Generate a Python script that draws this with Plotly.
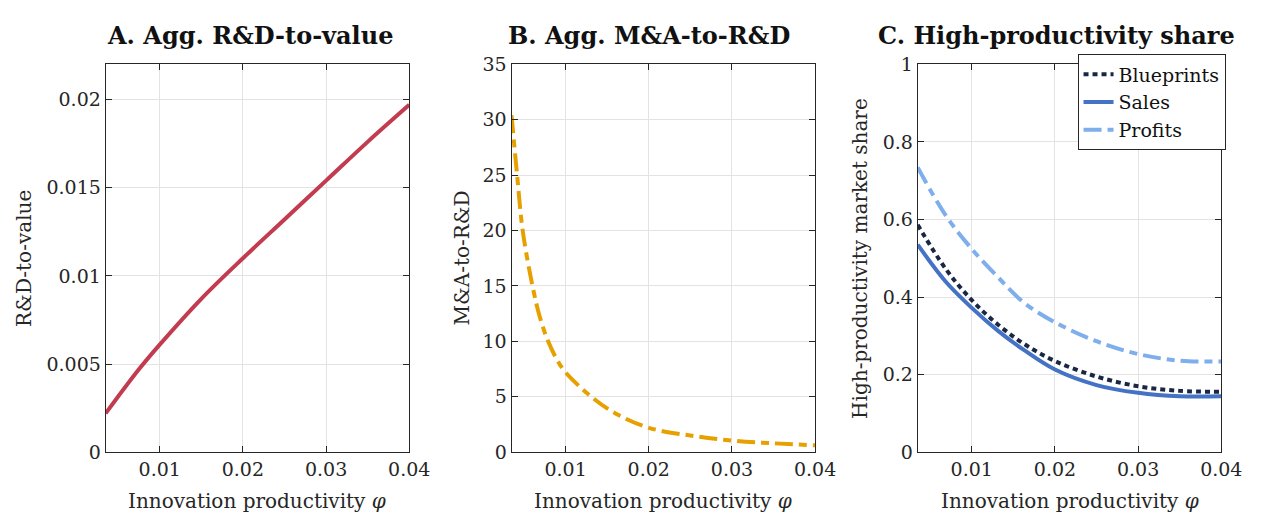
import plotly.graph_objects as go

# ---------------- data ----------------
phi_a = [0.0035, 0.0075, 0.01, 0.015, 0.02, 0.025, 0.03, 0.035, 0.04]
rd_to_value = [0.0022, 0.0047, 0.0061, 0.0087, 0.0110, 0.0132, 0.0154, 0.0176, 0.0197]

phi_b = [0.0035, 0.00417, 0.00484, 0.00602, 0.0069, 0.0079, 0.009, 0.01, 0.0131, 0.016,
         0.02, 0.025, 0.03, 0.035, 0.04]
ma_to_rd = [30.4, 25.0, 20.0, 15.0, 12.2, 10.0, 8.3, 7.2, 5.0, 3.5,
            2.2, 1.5, 1.05, 0.8, 0.62]

phi_c = [0.0035, 0.00685, 0.01, 0.0132, 0.0163, 0.02, 0.025, 0.03, 0.035, 0.04]
blueprints = [0.586, 0.473, 0.392, 0.328, 0.279, 0.235, 0.195, 0.170, 0.158, 0.156]
sales = [0.535, 0.440, 0.372, 0.312, 0.263, 0.213, 0.173, 0.153, 0.144, 0.144]
profits = [0.734, 0.611, 0.524, 0.450, 0.385, 0.335, 0.286, 0.253, 0.236, 0.234]

titles = ["A. Agg. R&D-to-value", "B. Agg. M&A-to-R&D", "C. High-productivity share"]
ytitles = ["R&D-to-value", "M&A-to-R&D", "High-productivity market share"]
xtitle = "Innovation productivity <i>φ</i>"
x_ticks = [0.01, 0.02, 0.03, 0.04]
x_ticklabels = ["0.01", "0.02", "0.03", "0.04"]
yticks_a = [0, 0.005, 0.01, 0.015, 0.02]
yticklabels_a = ["0", "0.005", "0.01", "0.015", "0.02"]
yticks_b = [0, 5, 10, 15, 20, 25, 30, 35]
yticks_c = [0, 0.2, 0.4, 0.6, 0.8, 1]
yticklabels_c = ["0", "0.2", "0.4", "0.6", "0.8", "1"]

# ---------------- layout ----------------
W, H = 1270, 520
FONT = "DejaVu Serif"
TXT = "#262626"
doms_x = [(99.3 / W, 408 / W), (512 / W, 820.7 / W), (925 / W, 1233.7 / W)]
dom_y = (1 - 452.3 / H, 1 - 47.3 / H)

fig = go.Figure()

fig.add_trace(go.Scatter(x=phi_a, y=rd_to_value, mode="lines", line_shape="spline",
                         line=dict(color="#C23B4E", width=4), showlegend=False,
                         xaxis="x", yaxis="y"))
fig.add_trace(go.Scatter(x=phi_b, y=ma_to_rd, mode="lines", line_shape="spline",
                         line=dict(color="#E6A100", width=4, dash="18px,6px,8px,6px"),
                         showlegend=False, xaxis="x2", yaxis="y2"))
fig.add_trace(go.Scatter(x=phi_c, y=blueprints, mode="lines", line_shape="spline",
                         name="Blueprints",
                         line=dict(color="#1A2744", width=4, dash="5px,4px"),
                         xaxis="x3", yaxis="y3"))
fig.add_trace(go.Scatter(x=phi_c, y=sales, mode="lines", line_shape="spline",
                         name="Sales", line=dict(color="#4472C4", width=4),
                         xaxis="x3", yaxis="y3"))
fig.add_trace(go.Scatter(x=phi_c, y=profits, mode="lines", line_shape="spline",
                         name="Profits",
                         line=dict(color="#7FAEEC", width=4, dash="18px,6px,8px,6px"),
                         xaxis="x3", yaxis="y3"))

axis_common = dict(showline=True, linecolor=TXT, linewidth=1, mirror="ticks",
                   ticks="inside", ticklen=6, tickcolor=TXT,
                   showgrid=True, gridcolor="#E3E3E3", gridwidth=1,
                   zeroline=False, tickfont=dict(family=FONT, size=19, color=TXT))

layout = dict(width=W, height=H, margin=dict(l=0, r=0, t=0, b=0),
              paper_bgcolor="white", plot_bgcolor="white",
              font=dict(family=FONT, color=TXT))

yranges = [[0, 0.022], [0, 35], [0, 1]]
ytv = [yticks_a, yticks_b, yticks_c]
ytt = [yticklabels_a, [str(v) for v in yticks_b], yticklabels_c]
for i in range(3):
    sx = "xaxis" if i == 0 else f"xaxis{i+1}"
    sy = "yaxis" if i == 0 else f"yaxis{i+1}"
    xa = "x" if i == 0 else f"x{i+1}"
    ya = "y" if i == 0 else f"y{i+1}"
    layout[sx] = dict(axis_common, domain=list(doms_x[i]), range=[0.0035, 0.04],
                      tickvals=x_ticks, ticktext=x_ticklabels, anchor=ya)
    layout[sy] = dict(axis_common, domain=list(dom_y), range=yranges[i],
                      tickvals=ytv[i], ticktext=ytt[i], anchor=xa)

layout["legend"] = dict(x=1238 / W, y=1 - 37 / H, xanchor="right", yanchor="top",
                        bgcolor="white", bordercolor=TXT, borderwidth=1,
                        font=dict(family=FONT, size=19, color="#111"),
                        tracegroupgap=0, itemwidth=30)

annotations = []
title_cx = [246, 652, 1066]
for i in range(3):
    annotations.append(dict(text=f"<b>{titles[i]}</b>", x=title_cx[i] / W, y=1 - 17 / H,
                            xref="paper", yref="paper", showarrow=False,
                            font=dict(family=FONT, size=24, color="#111"),
                            xanchor="center", yanchor="middle"))
    cx = (doms_x[i][0] + doms_x[i][1]) / 2
    annotations.append(dict(text=xtitle, x=cx, y=1 - 503 / H, xref="paper", yref="paper",
                            showarrow=False, font=dict(family=FONT, size=20, color=TXT),
                            xanchor="center", yanchor="middle"))
ytitle_x = [17, 462, 867]
for i in range(3):
    annotations.append(dict(text=ytitles[i], x=ytitle_x[i] / W, y=(dom_y[0] + dom_y[1]) / 2,
                            xref="paper", yref="paper", showarrow=False, textangle=-90,
                            font=dict(family=FONT, size=20, color=TXT),
                            xanchor="center", yanchor="middle"))
layout["annotations"] = annotations

fig.update_layout(**layout)
fig.write_html("out.html")
